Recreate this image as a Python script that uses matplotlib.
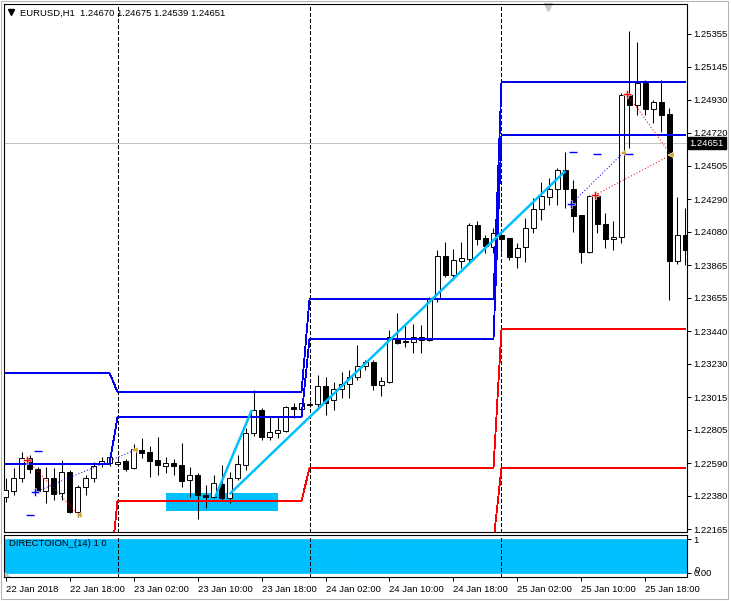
import numpy as np
import pandas as pd
import matplotlib
matplotlib.use("Agg")
import matplotlib.pyplot as plt
import matplotlib.transforms as mtransforms
from matplotlib.patches import Rectangle, Polygon

W, H = 731, 601

# EURUSD H1 bars, first bar 22 Jan 2018 10:00
opens = [1.22373, 1.22412, 1.22496, 1.22625, 1.22554, 1.22412, 1.22496, 1.22399, 1.22534, 1.22277,
         1.22438, 1.22496, 1.22592, 1.22592, 1.22586, 1.22605, 1.22560, 1.22676, 1.22663, 1.22612,
         1.22573, 1.22592, 1.22580, 1.22483, 1.22515, 1.22386, 1.22373, 1.22457, 1.22366, 1.22496,
         1.22580, 1.22786, 1.22934, 1.22760, 1.22786, 1.22798, 1.22953, 1.22940, 1.22966, 1.22973,
         1.23088, 1.22998, 1.23069, 1.23101, 1.23146, 1.23217, 1.23243, 1.23095, 1.23114, 1.23397,
         1.23378, 1.23371, 1.23404, 1.23384, 1.23648, 1.23925, 1.23803, 1.23893, 1.23906, 1.24125,
         1.24041, 1.23983, 1.24060, 1.24041, 1.23919, 1.23983, 1.24105, 1.24228, 1.24305, 1.24357,
         1.24480, 1.24357, 1.24189, 1.23950, 1.24312, 1.24131, 1.24035, 1.24047, 1.24962, 1.24898,
         1.25039, 1.24872, 1.24917, 1.24840, 1.23893, 1.24060]
highs = [1.22496, 1.22560, 1.22663, 1.22644, 1.22567, 1.22567, 1.22560, 1.22612, 1.22547, 1.22450,
         1.22515, 1.22599, 1.22631, 1.22657, 1.22612, 1.22618, 1.22714, 1.22753, 1.22702, 1.22760,
         1.22631, 1.22618, 1.22721, 1.22567, 1.22528, 1.22450, 1.22515, 1.22580, 1.22534, 1.22644,
         1.22818, 1.23063, 1.22946, 1.22889, 1.22889, 1.22960, 1.22979, 1.22992, 1.22992, 1.23160,
         1.23146, 1.23114, 1.23178, 1.23191, 1.23352, 1.23256, 1.23256, 1.23146, 1.23449, 1.23558,
         1.23481, 1.23488, 1.23481, 1.23661, 1.23964, 1.24015, 1.23971, 1.24015, 1.24138, 1.24151,
         1.24060, 1.24105, 1.24093, 1.24041, 1.24009, 1.24170, 1.24299, 1.24402, 1.24428, 1.24492,
         1.24595, 1.24415, 1.24189, 1.24318, 1.24331, 1.24202, 1.24151, 1.24975, 1.25374, 1.25304,
         1.25059, 1.24930, 1.25059, 1.24879, 1.24305, 1.24234]
lows = [1.22341, 1.22386, 1.22470, 1.22528, 1.22399, 1.22335, 1.22354, 1.22354, 1.22270, 1.22245,
        1.22386, 1.22470, 1.22567, 1.22573, 1.22573, 1.22541, 1.22554, 1.22625, 1.22502, 1.22515,
        1.22528, 1.22515, 1.22438, 1.22373, 1.22232, 1.22302, 1.22366, 1.22354, 1.22335, 1.22483,
        1.22547, 1.22766, 1.22740, 1.22740, 1.22753, 1.22792, 1.22882, 1.22895, 1.22953, 1.22934,
        1.22901, 1.22934, 1.23011, 1.23011, 1.23127, 1.23191, 1.23063, 1.23024, 1.23108, 1.23359,
        1.23339, 1.23301, 1.23301, 1.23378, 1.23629, 1.23790, 1.23771, 1.23848, 1.23887, 1.23996,
        1.23945, 1.23945, 1.23951, 1.23900, 1.23848, 1.23887, 1.24073, 1.24157, 1.24254, 1.24254,
        1.24234, 1.24080, 1.23881, 1.23945, 1.24073, 1.23977, 1.23964, 1.24009, 1.24621, 1.24833,
        1.24833, 1.24782, 1.24724, 1.23642, 1.23874, 1.23868]
closes = [1.22418, 1.22496, 1.22625, 1.22554, 1.22412, 1.22496, 1.22392, 1.22534, 1.22277, 1.22438,
          1.22496, 1.22573, 1.22605, 1.22631, 1.22599, 1.22554, 1.22682, 1.22657, 1.22605, 1.22580,
          1.22592, 1.22573, 1.22476, 1.22515, 1.22386, 1.22373, 1.22463, 1.22366, 1.22496, 1.22586,
          1.22786, 1.22934, 1.22760, 1.22792, 1.22805, 1.22953, 1.22940, 1.22979, 1.22973, 1.23088,
          1.22979, 1.23069, 1.23101, 1.23146, 1.23217, 1.23243, 1.23095, 1.23120, 1.23404, 1.23365,
          1.23371, 1.23404, 1.23384, 1.23655, 1.23925, 1.23803, 1.23900, 1.23913, 1.24125, 1.24035,
          1.23990, 1.24073, 1.24035, 1.23919, 1.23977, 1.24105, 1.24228, 1.24312, 1.24357, 1.24480,
          1.24357, 1.24183, 1.23950, 1.24312, 1.24131, 1.24035, 1.24047, 1.24962, 1.24898, 1.25039,
          1.24872, 1.24917, 1.24833, 1.23893, 1.24060, 1.23964]

# daily levels (22, 23, 24, 25 Jan)
upper_blue = [1.23172, 1.23050, 1.23648, 1.25046]
lower_blue = [1.22586, 1.22889, 1.23391, 1.24705]
upper_red = [1.21852, 1.22348, 1.22560, 1.23455]
lower_red = [1.21500, 1.21700, 1.22090, 1.22560]

# DIRECTOION_(14) histogram
direction = [1] * 86

# trendlines (bar, price)
trend_x0 = [26.2, 28.0]
trend_p0 = [1.22373, 1.22392]
trend_x1 = [30.8, 70.0]
trend_p1 = [1.22934, 1.24473]

# rectangle zone
zone_x = [20, 34]
zone_p = [1.22283, 1.22399]

# signal arrows and exits
sig_x0 = [3.7, 2.7, 70.7, 73.7, 77.7]
sig_p0 = [1.22405, 1.22612, 1.24260, 1.24318, 1.24969]
sig_x1 = [16.2, 9.2, 77.2, 83.2, 83.2]
sig_p1 = [1.22676, 1.22257, 1.24589, 1.24576, 1.24576]
sig_col = ["#0000ff", "#ff0000", "#0000ff", "#ff0000", "#ff0000"]

dash_x = [3, 4, 71, 74, 78]
dash_p = [1.22257, 1.22670, 1.24595, 1.24582, 1.24582]

bid = 1.24651
price_labels = ["1.25355", "1.25145", "1.24930", "1.24720", "1.24505", "1.24290", "1.24080",
                "1.23865", "1.23655", "1.23440", "1.23230", "1.23015", "1.22805", "1.22590",
                "1.22380", "1.22165"]
time_labels = ["22 Jan 2018", "22 Jan 18:00", "23 Jan 02:00", "23 Jan 10:00", "23 Jan 18:00",
               "24 Jan 02:00", "24 Jan 10:00", "24 Jan 18:00", "25 Jan 02:00", "25 Jan 10:00",
               "25 Jan 18:00"]

plt.rcParams['font.family'] = ['Liberation Sans', 'DejaVu Sans']
FS = 6.8

times = pd.date_range("2018-01-22 10:00", periods=len(opens), freq="h")
day = np.asarray((times.normalize() - times[0].normalize()).days)
idx = np.arange(len(opens))
o, h, l, c = map(np.array, (opens, highs, lows, closes))

fig = plt.figure(figsize=(W / 100, H / 100), dpi=100)
ax = fig.add_axes([4 / W, (H - 532) / H, 683 / W, 528 / H])
ax2 = fig.add_axes([4 / W, (H - 577) / H, 683 / W, 42 / H])

# background zone
ax.add_patch(Rectangle((zone_x[0], zone_p[0]), zone_x[1] - zone_x[0], zone_p[1] - zone_p[0],
                       color="#00bfff", lw=0, zorder=1))
ax.axhline(bid, color="#c0c0c0", lw=0.6, zorder=1, antialiased=False)

# candles
up = c >= o
ax.vlines(idx, l, h, color="black", lw=0.75, zorder=3)
ax.bar(idx, np.abs(c - o), bottom=np.minimum(o, c), width=0.56,
       color=np.where(up, "white", "black"), edgecolor="black", linewidth=0.7, zorder=4)

# daily levels
for lev, col in [(upper_blue, "#0000f0"), (lower_blue, "#0000f0"),
                 (upper_red, "#ff0000"), (lower_red, "#ff0000")]:
    ax.plot(idx, np.array(lev)[day], color=col, lw=0.6, zorder=5, antialiased=False)

# trendlines
for x0, p0, x1, p1 in zip(trend_x0, trend_p0, trend_x1, trend_p1):
    ax.plot([x0, x1], [p0, p1], color="#00bfff", lw=1.8, zorder=6, solid_capstyle="butt")

# signals
for x0, p0, x1, p1, col in zip(sig_x0, sig_p0, sig_x1, sig_p1, sig_col):
    ax.plot([x0, x1], [p0, p1], color=col, lw=0.75, ls=(0, (1, 2)), zorder=6)
    ax.plot(x0, p0, marker="P", ms=5.5, color=col, mec="white", mew=0.4, zorder=7)
    ax.plot(x1, p1, marker="<", ms=5, color="#daa520", mec="white", mew=0.3, zorder=7)
ax.plot(dash_x, dash_p, ls="none", marker="_", ms=5.5, mew=1.0, color="#0000ff", zorder=7)

# day separators
for d in [i for i, t in enumerate(times) if t.hour == 0]:
    for a in (ax, ax2):
        a.axvline(d, color="black", lw=0.6, ls=(0, (4, 3)), zorder=2, antialiased=False)

ax.set_xlim(-0.19, 85.19)
ax.set_ylim(1.22148, 1.25548)
ax.set_xticks([])
ax.yaxis.tick_right()
ax.set_yticks([float(s) for s in price_labels])
ax.set_yticklabels(price_labels)
ax.tick_params(axis="y", length=3, width=0.72, pad=1.5, labelsize=FS)
for sp in ax.spines.values():
    sp.set_linewidth(0.8)

# bid price box
bt = mtransforms.blended_transform_factory(ax.transAxes, ax.transData)
ax.text(1.004, bid, "1.24651", transform=bt, color="white", fontsize=FS, va="center", ha="left",
        bbox=dict(boxstyle="square,pad=0.18", fc="black", ec="black"))

# header
ax.text(16 / 683, (532 - 13) / 528, "EURUSD,H1  1.24670 1.24675 1.24539 1.24651",
        transform=ax.transAxes, fontsize=FS, va="center", ha="left")
ax.plot([(11 - 4) / 683], [(532 - 12) / 528], marker="v", ms=4, color="black",
        transform=ax.transAxes, clip_on=False)
ax.plot([(548 - 4) / 683], [(532 - 7) / 528], marker="v", ms=6, color="#c8c8c8",
        transform=ax.transAxes, clip_on=False)

# sub window
ax2.bar(idx, direction, width=1.0, color="#00bfff", edgecolor="#00bfff", linewidth=0.5)
ax2.set_xlim(-0.19, 85.19)
ax2.set_ylim(-0.118, 1.118)
ax2.yaxis.tick_right()
ax2.set_yticks([0, 1])
ax2.set_yticklabels(["0.00", "1"])
ax2.tick_params(axis="y", length=3, width=0.72, pad=1.5, labelsize=FS)
tick_idx = [i for i, t in enumerate(times) if t.hour in (2, 10, 18)]
ax2.set_xticks(tick_idx)
ax2.set_xticklabels(time_labels, ha="left", fontsize=FS)
ax2.tick_params(axis="x", length=3, width=0.72, pad=2.5)
for sp in ax2.spines.values():
    sp.set_linewidth(0.8)
bt2 = mtransforms.blended_transform_factory(ax2.transAxes, ax2.transData)
ax2.text(1.011, 0.06, "0", transform=bt2, fontsize=FS, va="center", ha="left")
ax2.text(5 / 683, (577 - 543) / 42, "DIRECTOION_(14) 1 0", transform=ax2.transAxes,
         fontsize=FS, va="center", ha="left")
ax2.add_patch(Polygon([[0.001, 0.0], [0.01, 0.0], [0.001, 0.12]], closed=True,
                      transform=ax2.transAxes, color="#c0c0c0", lw=0, zorder=5))

# window frame
fig.add_artist(Rectangle((0.5 / W, 2.5 / H), 727.5 / W, 598 / H, transform=fig.transFigure,
                         fill=False, ec="#b4b4b4", lw=0.75))

fig.savefig("out.png", dpi=100)
